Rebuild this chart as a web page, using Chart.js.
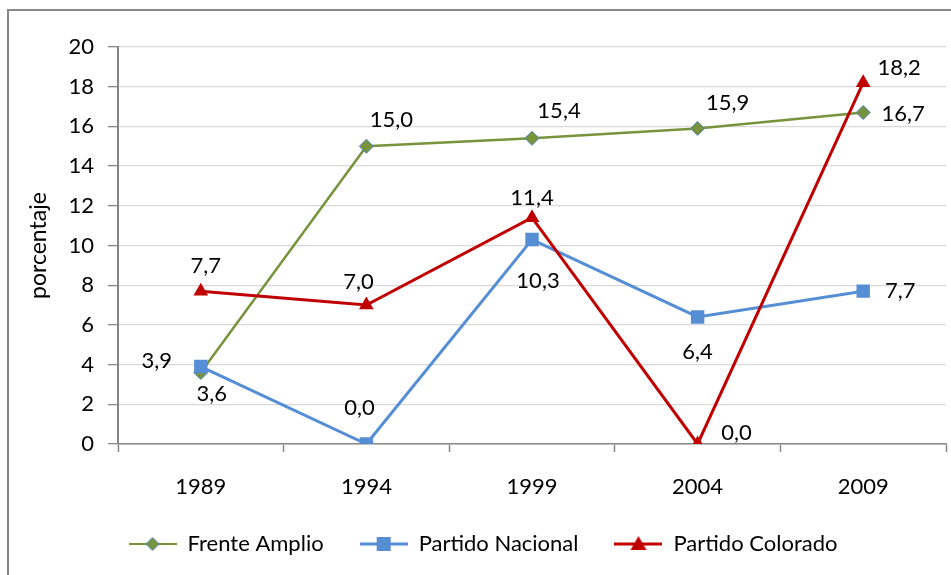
<!DOCTYPE html>
<html>
<head>
<meta charset="utf-8">
<script src="https://cdn.jsdelivr.net/npm/chart.js@4"></script>
<style>
  html, body { margin: 0; padding: 0; background: #fff; }
  #wrap { width: 951px; height: 575px; position: relative; }
</style>
</head>
<body>
<div id="wrap"><canvas id="chart"></canvas></div>
<script>
// datos
const years = ['1989', '1994', '1999', '2004', '2009'];
const frenteAmplio = [3.6, 15.0, 15.4, 15.9, 16.7];
const partidoNacional = [3.9, 0.0, 10.3, 6.4, 7.7];
const partidoColorado = [7.7, 7.0, 11.4, 0.0, 18.2];
const seriesNames = ['Frente Amplio', 'Partido Nacional', 'Partido Colorado'];

// label offsets (px) from each point
const labelOffsets = [
  [[11, 21], [25, -26], [27, -27], [30, -25], [40, 1]],
  [[-44, -6], [-7, -36], [6, 41], [0, 35], [37, 0]],
  [[5, -25], [-8, -23], [0, -20], [39, -11], [36, -15]]
];

const GREEN = '#77933C';
const BLUE = '#558ED5';
const RED = '#C00000';
const FONT = 'Lato';

// legend icons: line + marker
function makeIcon(color, lineW, drawMarker) {
  const c = document.createElement('canvas');
  c.width = 48; c.height = 18;
  const g = c.getContext('2d');
  g.strokeStyle = color;
  g.lineWidth = lineW;
  g.beginPath(); g.moveTo(0, 9); g.lineTo(48, 9); g.stroke();
  drawMarker(g);
  return c;
}
const icons = [
  makeIcon(GREEN, 2, g => {
    g.beginPath(); g.moveTo(24, 2.5); g.lineTo(30.5, 9); g.lineTo(24, 15.5); g.lineTo(17.5, 9); g.closePath();
    g.fillStyle = GREEN; g.fill(); g.strokeStyle = '#4F81BD'; g.lineWidth = 1; g.stroke();
  }),
  makeIcon(BLUE, 3, g => { g.fillStyle = BLUE; g.fillRect(17, 2, 14, 14); }),
  makeIcon(RED, 3, g => {
    g.beginPath(); g.moveTo(24, 1); g.lineTo(32, 15); g.lineTo(16, 15); g.closePath();
    g.fillStyle = RED; g.fill();
  })
];

const frameBox = {
  id: 'frameBox',
  beforeDraw(chart) {
    const ctx = chart.ctx;
    ctx.save();
    ctx.fillStyle = '#fff';
    ctx.fillRect(0, 0, chart.width, chart.height);
    ctx.strokeStyle = '#878787';
    ctx.lineWidth = 2;
    ctx.strokeRect(8, 10, 1000, 600);
    ctx.restore();
  }
};

const pointLabels = {
  id: 'pointLabels',
  afterDatasetsDraw(chart) {
    const ctx = chart.ctx;
    ctx.save();
    ctx.font = '22px ' + FONT;
    ctx.fillStyle = '#000';
    ctx.textAlign = 'center';
    ctx.textBaseline = 'middle';
    chart.data.datasets.forEach((ds, di) => {
      const meta = chart.getDatasetMeta(di);
      meta.data.forEach((pt, i) => {
        const off = labelOffsets[di][i];
        const txt = ds.data[i].toFixed(1).replace('.', ',');
        ctx.fillText(txt, pt.x + off[0], pt.y + off[1]);
      });
    });
    ctx.restore();
  }
};

new Chart(document.getElementById('chart'), {
  type: 'line',
  data: {
    labels: years,
    datasets: [
      {
        label: seriesNames[0], data: frenteAmplio, order: 3,
        borderColor: GREEN, borderWidth: 2.5, backgroundColor: GREEN,
        pointStyle: 'rectRot', pointRadius: 7, pointBackgroundColor: GREEN,
        pointBorderColor: '#4F81BD', pointBorderWidth: 1
      },
      {
        label: seriesNames[1], data: partidoNacional, order: 2,
        borderColor: BLUE, borderWidth: 3, backgroundColor: BLUE,
        pointStyle: 'rect', pointRadius: 9.5, pointBackgroundColor: BLUE,
        pointBorderColor: BLUE, pointBorderWidth: 0
      },
      {
        label: seriesNames[2], data: partidoColorado, order: 1,
        borderColor: RED, borderWidth: 3, backgroundColor: RED,
        pointStyle: 'triangle', pointRadius: 8.5, pointBackgroundColor: RED,
        pointBorderColor: RED, pointBorderWidth: 0
      }
    ]
  },
  options: {
    responsive: true,
    maintainAspectRatio: false,
    animation: false,
    layout: { autoPadding: false, padding: { left: 20, top: 47, right: 5, bottom: 10 } },
    plugins: {
      tooltip: { enabled: false },
      legend: {
        position: 'bottom',
        labels: {
          usePointStyle: true,
          pointStyleWidth: 48,
          padding: 36,
          color: '#000',
          font: { family: FONT, size: 22 },
          sort: (a, b) => a.datasetIndex - b.datasetIndex,
          generateLabels(chart) {
            const items = Chart.defaults.plugins.legend.labels.generateLabels(chart);
            items.forEach(it => { it.pointStyle = icons[it.datasetIndex]; });
            return items;
          }
        }
      }
    },
    scales: {
      x: {
        offset: true,
        grid: {
          offset: true, drawOnChartArea: false, drawTicks: true,
          tickLength: 8, tickColor: '#878787', tickWidth: 1.5
        },
        border: { color: '#878787', width: 1.5 },
        ticks: { color: '#000', font: { family: FONT, size: 22 }, padding: 22 },
        afterFit(scale) { scale.height = 53; }
      },
      y: {
        min: 0, max: 20,
        ticks: { stepSize: 2, color: '#000', font: { family: FONT, size: 22 }, padding: 14 },
        grid: { color: '#d9d9d9', lineWidth: 1.3, tickLength: 10, tickColor: '#878787' },
        border: { color: '#878787', width: 2 },
        title: {
          display: true, text: 'porcentaje', color: '#000',
          font: { family: FONT, size: 23 }, padding: { top: 5, bottom: 0 }
        },
        afterFit(scale) { scale.width = 98; }
      }
    }
  },
  plugins: [frameBox, pointLabels]
});
</script>
</body>
</html>
